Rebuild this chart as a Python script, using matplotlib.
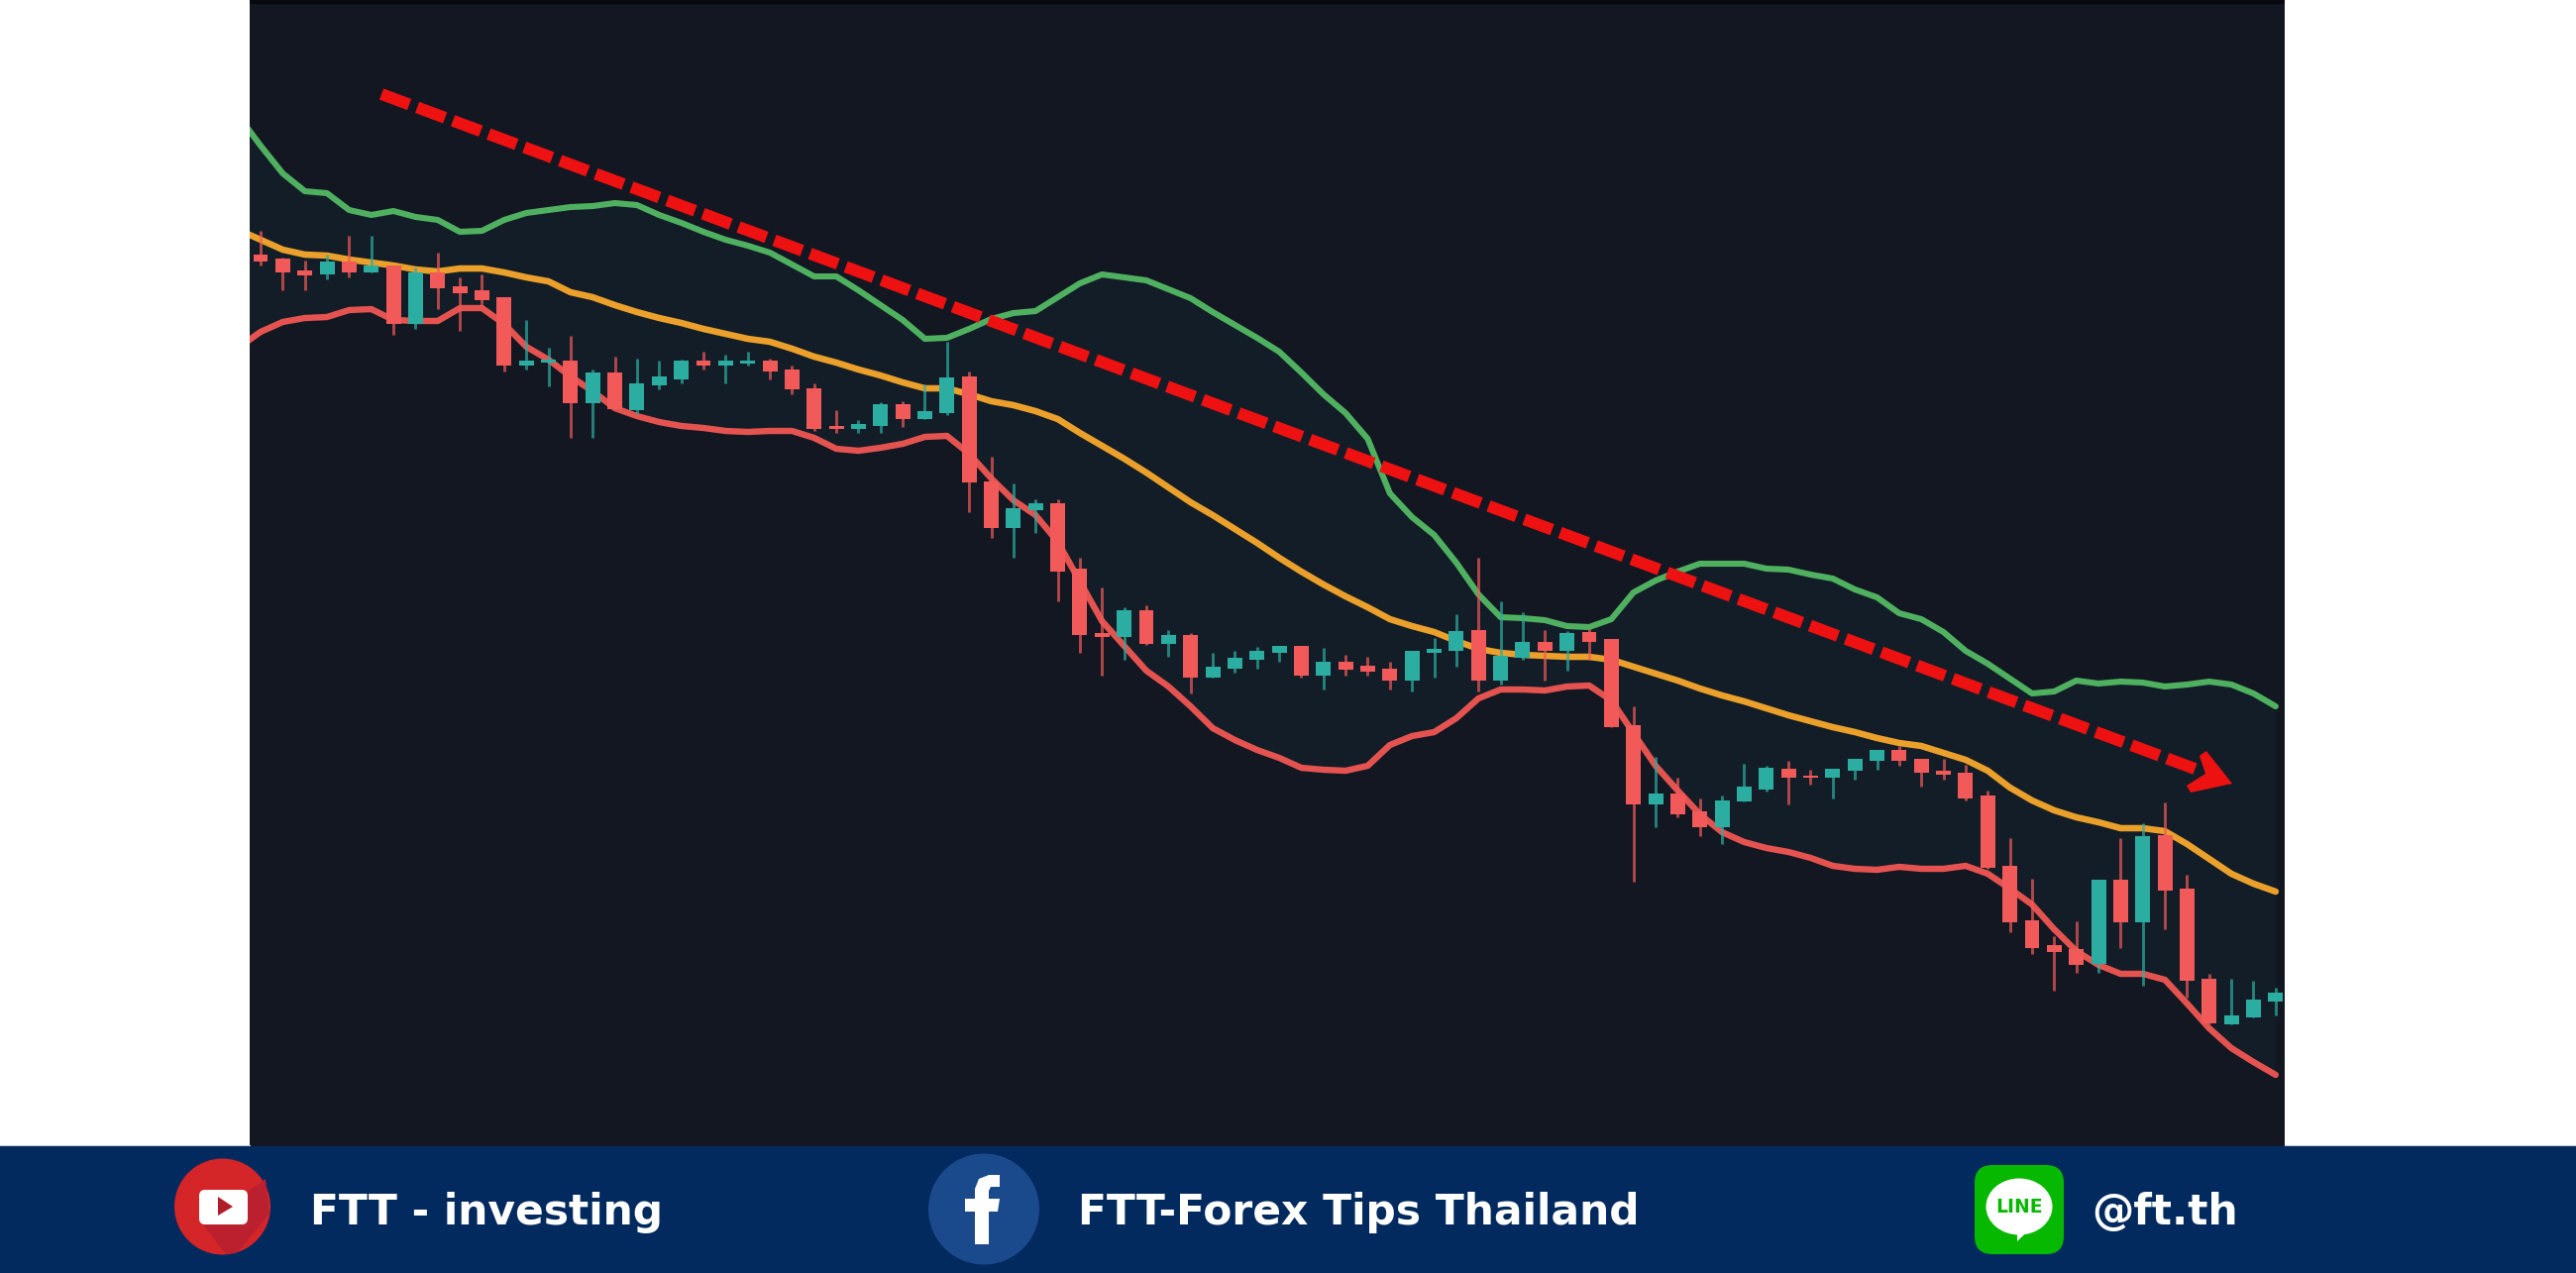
import matplotlib
matplotlib.use("Agg")
import matplotlib.pyplot as plt
from matplotlib.patches import Circle, Ellipse, FancyBboxPatch, Polygon, Rectangle
import numpy as np

# candles (axis runs in picture rows, so smaller = higher)
wick_high = [233,260,263,257,238,238,268,270,255,280,277,300,323,351,339,373,360,362,364,363,355,358,355,
             362,369,387,414,424,406,405,388,345,375,461,488,504,504,563,593,613,611,636,639,659,657,653,
             652,652,654,661,663,668,657,644,620,563,607,618,636,637,635,645,713,764,785,806,803,771,773,
             768,777,776,766,757,753,766,766,772,798,846,887,945,930,888,846,831,810,883,983,988,990,997]
body_top = [257,261,273,264,264,268,268,275,275,289,293,300,364,363,364,376,376,387,380,364,364,364,364,
            364,373,392,430,428,408,408,415,381,380,486,513,508,508,574,639,616,616,641,641,673,664,657,
            652,652,668,668,672,675,657,655,637,636,662,648,648,639,638,645,732,801,801,819,808,794,775,
            776,783,776,766,757,757,766,778,780,803,874,929,954,958,888,888,844,843,897,988,1025,1009,1002]
body_bottom = [264,275,278,277,275,275,327,327,291,296,303,369,369,366,407,407,413,414,389,383,369,369,367,
               375,393,433,433,433,430,423,423,417,487,533,533,515,577,641,643,643,650,650,684,684,675,666,
               659,682,682,676,678,687,687,659,657,687,687,664,657,657,648,734,812,812,822,835,835,809,797,
               785,785,785,778,768,768,780,782,806,876,931,957,961,974,973,931,931,899,990,1033,1034,1027,1011]
wick_low = [268,293,293,282,280,275,338,332,312,334,310,375,373,390,442,442,413,418,393,387,373,387,369,
            383,398,435,437,437,437,431,423,419,517,543,563,538,607,659,682,666,651,663,700,684,679,675,
            668,684,696,682,682,696,698,684,673,698,691,666,687,677,666,734,890,835,825,844,852,809,799,
            812,792,806,787,777,773,794,787,808,877,941,963,1000,982,982,957,995,938,1007,1033,1034,1027,1025]
direction = ["d","d","d","u","d","u","d","u","d","d","d","d","u","u","d","u","d","u","u","u","d","u","u",
             "d","d","d","d","u","u","d","u","u","d","d","u","u","d","d","d","u","d","u","d","u","u","u",
             "u","d","u","d","d","d","u","u","u","d","u","u","d","u","d","d","d","u","d","d","u","u","u",
             "d","d","u","u","u","d","d","d","d","d","d","d","d","d","u","d","u","d","d","d","u","u","u"]

# bollinger bands, first value is the bar just left of the picture
upper_band = [117,147,175,193,195,212,217,213,219,222,234,233,222,215,212,209,208,205,207,217,225,234,242,248,
              255,267,279,279,293,308,323,342,341,332,322,316,314,300,286,277,280,283,292,301,315,328,341,355,
              376,398,417,443,498,522,540,568,600,623,624,626,632,633,625,598,586,577,569,569,569,574,
              575,580,584,595,603,619,625,638,657,670,685,700,698,687,690,688,689,693,691,688,691,700,713]
middle_band = [232,242,252,257,258,262,265,268,272,274,271,271,275,280,284,295,300,308,315,321,326,332,337,342,
               345,352,360,366,373,379,386,392,392,398,405,409,415,423,437,450,463,477,492,507,520,534,
               548,563,577,590,602,613,625,632,638,647,655,659,661,662,663,663,666,673,680,687,695,702,708,715,
               722,728,734,739,745,750,753,760,767,778,795,808,818,825,830,836,836,839,852,867,882,892,900]
lower_band = [351,335,325,321,320,313,312,323,324,324,311,311,327,350,363,380,395,412,420,426,430,432,435,436,
              435,435,442,453,455,452,448,441,440,458,483,505,520,547,587,627,652,677,693,713,
              735,747,757,765,775,777,778,773,752,743,739,725,705,696,
              696,697,693,692,707,740,773,798,822,840,850,856,
              860,866,874,877,878,875,877,877,874,882,897,913,938,960,974,983,983,989,1013,1038,1058,1072,1085]

trend_x = [5.46, 87.47]
trend_y = [95, 777]
arrow_x = [87.56, 87.87, 89.04, 87.16, 86.98, 87.83]
arrow_y = [763, 758, 791, 800, 793, 781]

footer_labels = ["FTT - investing", "FTT-Forex Tips Thailand", "@ft.th"]
footer_x = [313, 1088, 2111]

BG = "#131722"
RED = "#f25a5a"
TEAL = "#2baea1"

W, H = 2600, 1285
fig = plt.figure(figsize=(W / 100, H / 100), dpi=100, facecolor="white")

# chart panel
ax = fig.add_axes([252 / W, (H - 1157) / H, (2306 - 252) / W, 1157 / H])
ax.set_xlim(-0.492, 91.41)
ax.set_ylim(1157, 0)
ax.axis("off")
ax.add_patch(Rectangle((0, 0), 1, 1, transform=ax.transAxes, color=BG, zorder=0))
ax.add_patch(Rectangle((0, 0.9975), 1, 0.0025, transform=ax.transAxes, color="#08090f", zorder=1))

bars = np.arange(len(wick_high))
band_bars = np.arange(-1, len(wick_high))
ax.fill_between(band_bars, upper_band, lower_band, color="#131d27", lw=0, zorder=1)
ax.plot(band_bars, upper_band, color="#4fb060", lw=4.4, zorder=2, solid_capstyle="round")
ax.plot(band_bars, middle_band, color="#eaa02b", lw=4.7, zorder=2, solid_capstyle="round")
ax.plot(band_bars, lower_band, color="#e4534f", lw=4.6, zorder=2, solid_capstyle="round")

colors = [TEAL if d == "u" else RED for d in direction]
ax.vlines(bars, wick_high, wick_low, colors=colors, lw=2.1, alpha=0.7, zorder=3)
ax.bar(bars, np.array(body_bottom) - np.array(body_top), bottom=body_top, width=0.67, color=colors, lw=0, zorder=4)

ax.plot(trend_x, trend_y, color="#ee1111", lw=8.6, dashes=(2.51, 0.71), dash_capstyle="butt", zorder=5)
ax.add_patch(Polygon(list(zip(arrow_x, arrow_y)), closed=True, color="#ee1111", lw=0, zorder=5))

# footer bar, in picture pixels
foot = fig.add_axes([0, 0, 1, 1], facecolor="none")
foot.set_xlim(0, W)
foot.set_ylim(H, 0)
foot.axis("off")
foot.add_patch(Rectangle((0, 1157), W, H - 1157, color="#022a5e", lw=0))
foot.plot([0, 252], [1156, 1156], color="#c8c8c8", lw=0.8)
foot.plot([2306, W], [1156, 1156], color="#c8c8c8", lw=0.8)

# youtube
foot.add_patch(Circle((224.5, 1218), 48.5, color="#d42529", lw=0))
foot.add_patch(Polygon([(205, 1236), (268, 1190), (272, 1225), (240, 1264), (228, 1266)], closed=True, color="#bb202e", lw=0))
foot.add_patch(FancyBboxPatch((205, 1205), 41, 27, boxstyle="round,pad=4,rounding_size=6", color="white", lw=0))
foot.add_patch(Polygon([(220, 1208), (235, 1218), (220, 1227)], closed=True, color="#b01c28", lw=0))

# facebook
foot.add_patch(Circle((993, 1220.5), 56, color="#1b4a8c", lw=0))
foot.add_patch(Polygon([(984, 1256), (998, 1256), (998, 1223), (1007, 1223), (1009, 1210), (998, 1210),
                        (998, 1202), (1000, 1198), (1009, 1198), (1009, 1186), (998, 1186), (988, 1190),
                        (984, 1200), (984, 1210), (974, 1210), (974, 1223), (984, 1223)],
                       closed=True, color="white", lw=0))

# line
foot.add_patch(FancyBboxPatch((2009, 1192), 58, 58, boxstyle="round,pad=16,rounding_size=18", color="#06b800", lw=0))
foot.add_patch(Ellipse((2038, 1218), 67, 57, color="white", lw=0))
foot.add_patch(Polygon([(2030, 1238), (2036, 1243), (2036, 1253), (2058, 1232)], closed=True, color="white", lw=0))
foot.text(2038, 1218, "LINE", color="#06b800", fontsize=13.5, fontweight="bold", ha="center", va="center", family="DejaVu Sans")

for label, x in zip(footer_labels, footer_x):
    foot.text(x, 1236, label, color="white", fontsize=30.5, fontweight="bold", ha="left", va="baseline", family="DejaVu Sans")

fig.savefig("out.png", dpi=100)
